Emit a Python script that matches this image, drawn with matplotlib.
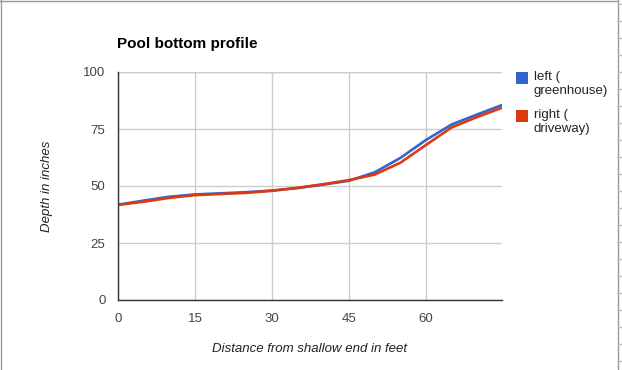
import matplotlib
matplotlib.use('Agg')
import matplotlib.pyplot as plt
from matplotlib.patches import Rectangle
from matplotlib.lines import Line2D

plt.rcParams['font.family'] = ['Liberation Sans', 'DejaVu Sans']

# distance from shallow end (feet)
distance = [0, 5, 10, 15, 20, 25, 30, 35, 40, 45, 50, 55, 60, 65, 70, 74.8]
left_depth = [41.8, 43.6, 45.3, 46.3, 46.8, 47.3, 48.0, 49.1, 50.6, 52.3, 56.0, 62.3, 70.2, 77.0, 81.4, 85.5]
right_depth = [41.7, 43.1, 44.8, 46.0, 46.5, 47.0, 47.9, 49.2, 50.8, 52.6, 55.0, 60.2, 68.0, 75.7, 80.3, 84.3]

series_labels = ['left (\ngreenhouse)', 'right (\ndriveway)']
series_colors = ['#3366cc', '#dc3912']
x_ticks = [0, 15, 30, 45, 60]
y_ticks = [0, 25, 50, 75, 100]

W, H = 622, 370
fig = plt.figure(figsize=(W / 100, H / 100), dpi=100)
ax = fig.add_axes([118 / W, 1 - 300 / H, 384 / W, 228 / H])

for ys, c in zip([left_depth, right_depth], series_colors):
    ax.plot(distance, ys, color=c, lw=1.9, solid_joinstyle='round')

ax.set_xlim(0, distance[-1])
ax.set_ylim(0, 100)
ax.set_xticks(x_ticks)
ax.set_yticks(y_ticks)
ax.grid(True, color='#cccccc', lw=1)
ax.set_axisbelow(True)
for s in ['top', 'right']:
    ax.spines[s].set_visible(False)
for s in ['left', 'bottom']:
    ax.spines[s].set_color('#333333')
    ax.spines[s].set_linewidth(1)
ax.tick_params(length=0, labelsize=9.5, colors='#444444')
ax.tick_params(axis='x', pad=9)
ax.tick_params(axis='y', pad=9)
# top gridline at 100
ax.axhline(100, color='#cccccc', lw=1, zorder=0)

ax.set_xlabel('Distance from shallow end in feet', fontsize=9.5, style='italic',
              color='#222222', labelpad=13)
ax.set_ylabel('Depth in inches', fontsize=9.5, style='italic',
              color='#222222', labelpad=22)

fig.text(117 / W, 1 - 48 / H, 'Pool bottom profile', fontsize=11,
         fontweight='bold', color='#000000', ha='left', va='baseline')

# legend
for i, (lab, c) in enumerate(zip(series_labels, series_colors)):
    top = 72 + i * 38
    fig.add_artist(Rectangle((516 / W, 1 - (top + 12) / H), 12 / W, 12 / H,
                             transform=fig.transFigure, color=c, lw=0))
    fig.text(534 / W, 1 - (top - 1) / H, lab, fontsize=9.5, color='#222222',
             ha='left', va='top', linespacing=1.25)

# frame edges of the screenshot
grey = '#9a9a9a'
fig.add_artist(Line2D([0.5 / W, 0.5 / W], [0, 1], transform=fig.transFigure, color=grey, lw=1))
fig.add_artist(Line2D([0, 618 / W], [1 - 0.5 / H, 1 - 0.5 / H], transform=fig.transFigure, color=grey, lw=1))
fig.add_artist(Line2D([618 / W, 618 / W], [0, 1], transform=fig.transFigure, color=grey, lw=1))
for yy in range(4, H, 17):
    fig.add_artist(Line2D([618 / W, 1], [1 - yy / H, 1 - yy / H], transform=fig.transFigure,
                          color='#bbbbbb', lw=1))

fig.savefig('out.png', dpi=100, facecolor='white')
